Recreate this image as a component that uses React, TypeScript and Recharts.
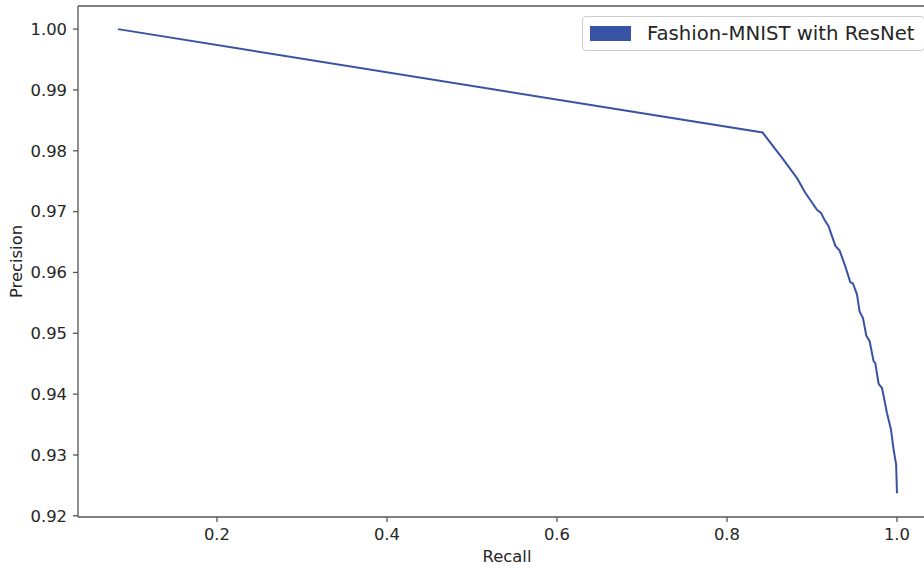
import React from "react";
import { LineChart, Line, XAxis, YAxis, ReferenceLine } from "recharts";

// recall / precision
const recall = [
  0.0835, 0.8419, 0.8666, 0.8824, 0.8921, 0.9059, 0.9106, 0.9145, 0.9195, 0.9274,
  0.9325, 0.9392, 0.9451, 0.9482, 0.9529, 0.956, 0.96, 0.9639, 0.9678, 0.9725,
  0.9745, 0.9784, 0.9824, 0.9882, 0.9929, 0.996, 0.999, 1.0,
];
const precision = [
  1.0, 0.983, 0.9785, 0.9755, 0.9731, 0.9703, 0.9698, 0.9687, 0.9676, 0.9644,
  0.9636, 0.961, 0.9584, 0.9582, 0.9564, 0.9536, 0.9525, 0.9496, 0.9487, 0.9454,
  0.9451, 0.9417, 0.941, 0.9369, 0.9342, 0.9309, 0.9284, 0.9237,
];
const xTicks = [0.2, 0.4, 0.6, 0.8, 1.0];
const yTicks = [0.92, 0.93, 0.94, 0.95, 0.96, 0.97, 0.98, 0.99, 1.0];
const seriesName = "Fashion-MNIST with ResNet";

const X_MIN = 0.0365;
const X_MAX = 1.0459;
const Y_MIN = 0.9198;
const Y_MAX = 1.0038;

const data = recall.map((r, i) => ({ recall: r, precision: precision[i] }));

const LINE_COLOR = "#3953a4";
const SPINE = "#555555";
const TEXT = "#262626";
const FONT = "'DejaVu Sans', sans-serif";

// legend drawn as an overlay so it doesn't steal plot height
const LegendBox = () => (
  <div
    style={{
      position: "absolute",
      left: 582,
      top: 16,
      display: "flex",
      alignItems: "center",
      height: 33,
      width: 341,
      border: "1px solid #cccccc",
      borderRadius: 4,
      background: "rgba(255,255,255,0.8)",
      fontFamily: FONT,
      fontSize: 19.7,
      color: TEXT,
    }}
  >
    <span
      style={{
        display: "inline-block",
        width: 41,
        height: 15,
        background: LINE_COLOR,
        marginLeft: 7,
        marginRight: 16,
      }}
    />
    <span style={{ whiteSpace: "nowrap" }}>{seriesName}</span>
  </div>
);

export default function App() {
  return (
    <div
      style={{
        position: "fixed",
        left: 0,
        top: 0,
        width: 924,
        height: 568,
        overflow: "hidden",
        background: "#fff",
      }}
    >
      <LineChart
        width={960}
        height={568}
        data={data}
        margin={{ top: 6, right: 24, bottom: 0, left: 0 }}
      >
        <XAxis
          dataKey="recall"
          type="number"
          domain={[X_MIN, X_MAX]}
          ticks={xTicks}
          tickFormatter={(v: number) => v.toFixed(1)}
          allowDataOverflow
          height={51}
          tickSize={5}
          tickMargin={6}
          stroke={SPINE}
          strokeWidth={1.3}
          tick={{ fill: TEXT, fontSize: 16.4, fontFamily: FONT }}
          label={{
            value: "Recall",
            position: "insideBottom",
            offset: 6,
            fill: TEXT,
            fontSize: 16.4,
            fontFamily: FONT,
          }}
        />
        <YAxis
          type="number"
          domain={[Y_MIN, Y_MAX]}
          ticks={yTicks}
          tickFormatter={(v: number) => v.toFixed(2)}
          allowDataOverflow
          width={78}
          tickSize={5}
          tickMargin={6}
          stroke={SPINE}
          strokeWidth={1.3}
          tick={{ fill: TEXT, fontSize: 16.4, fontFamily: FONT }}
          label={{
            // eslint-disable-next-line @typescript-eslint/no-explicit-any
            content: (props: any) => {
              const vb = props.viewBox;
              const cx = 22;
              const cy = vb.y + vb.height / 2;
              return (
                <text
                  x={cx}
                  y={cy}
                  transform={`rotate(-90, ${cx}, ${cy})`}
                  textAnchor="middle"
                  fill={TEXT}
                  fontSize={16.4}
                  fontFamily={FONT}
                >
                  Precision
                </text>
              );
            },
          }}
        />
        <ReferenceLine y={Y_MAX} stroke={SPINE} strokeWidth={1.3} />
        <ReferenceLine x={X_MAX} stroke={SPINE} strokeWidth={1.3} />
        <Line
          type="linear"
          dataKey="precision"
          name={seriesName}
          stroke={LINE_COLOR}
          strokeWidth={2}
          dot={false}
          isAnimationActive={false}
        />
      </LineChart>
      <LegendBox />
    </div>
  );
}
